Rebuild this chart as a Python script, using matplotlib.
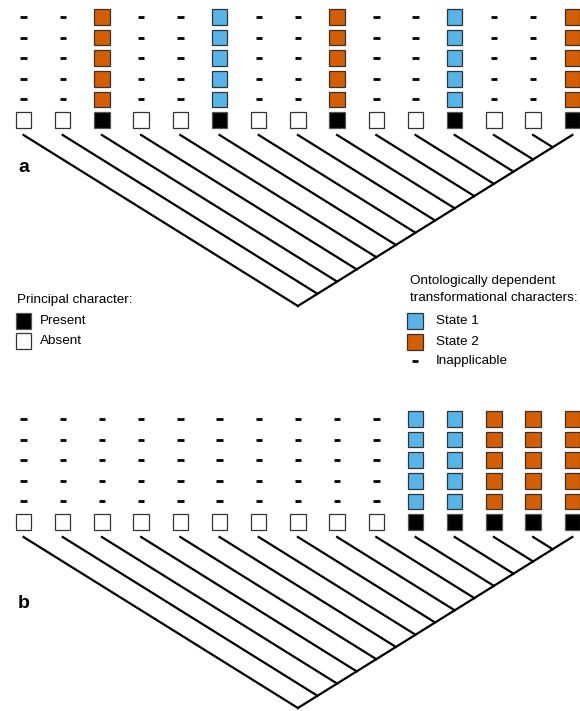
import numpy as np
import matplotlib.pyplot as plt
from matplotlib.patches import Rectangle

plt.rcParams['font.family'] = ['Liberation Sans', 'DejaVu Sans']

# Data: principal character (1 = present, 0 = absent) and dependent state per taxon
principal_a = [0, 0, 1, 0, 0, 1, 0, 0, 1, 0, 0, 1, 0, 0, 1]
states_a = ['-', '-', '2', '-', '-', '1', '-', '-', '2', '-', '-', '1', '-', '-', '2']
principal_b = [0, 0, 0, 0, 0, 0, 0, 0, 0, 0, 1, 1, 1, 1, 1]
states_b = ['-', '-', '-', '-', '-', '-', '-', '-', '-', '-', '1', '1', '2', '2', '2']
n_dependent = 5

blue = '#56B4E9'
orange = '#D55E00'
state_colors = {'1': blue, '2': orange}

fig = plt.figure(figsize=(5.8, 7.11), dpi=100)
ax = fig.add_axes([0, 0, 1, 1])
ax.set_xlim(0, 580)
ax.set_ylim(711, 0)
ax.axis('off')

xs = 23.5 + 39.2 * np.arange(15)
sq = 15.5
row_gap = 20.6


def square(x, y, face, edge='#333333'):
    ax.add_patch(Rectangle((x - sq / 2, y - sq / 2), sq, sq, facecolor=face,
                           edgecolor=edge, linewidth=0.9))


def dash(x, y):
    ax.plot([x - 3.2, x + 3.2], [y, y], color='black', lw=2.0, solid_capstyle='butt')


def panel(principal, states, base_y, tip_y, root_dy):
    for x, p, s in zip(xs, principal, states):
        square(x, base_y, 'black' if p else 'white',
               edge='#555555' if p else '#333333')
        for k in range(1, n_dependent + 1):
            y = base_y - k * row_gap
            if s == '-':
                dash(x, y)
            else:
                square(x, y, state_colors[s])
    # pectinate tree
    x_last = xs[-1]
    slope = root_dy / ((x_last - xs[0]) / 2)
    x_root = (xs[0] + x_last) / 2
    ax.plot([x_last, x_root], [tip_y, tip_y + root_dy], color='black', lw=1.6)
    for x in xs[:-1]:
        xj = (x + x_last) / 2
        ax.plot([x, xj], [tip_y, tip_y + slope * (xj - x)], color='black', lw=1.6)


panel(principal_a, states_a, 120, 135, 171)
panel(principal_b, states_b, 522, 537, 171)

ax.text(18, 167, 'a', fontsize=14, fontweight='bold', va='center', ha='left')
ax.text(18, 603, 'b', fontsize=14, fontweight='bold', va='center', ha='left')

fs = 9.7
# Legend: principal character
ax.text(17, 300, 'Principal character:', fontsize=fs, va='center')
square(23.5, 321, 'black', edge='#555555')
ax.text(40, 321, 'Present', fontsize=fs, va='center')
square(23.5, 341, 'white')
ax.text(40, 341, 'Absent', fontsize=fs, va='center')

# Legend: dependent characters
ax.text(410, 281, 'Ontologically dependent', fontsize=fs, va='center')
ax.text(410, 298, 'transformational characters:', fontsize=fs, va='center')
square(415, 321, blue)
ax.text(436, 321, 'State 1', fontsize=fs, va='center')
square(415, 342, orange)
ax.text(436, 342, 'State 2', fontsize=fs, va='center')
dash(415, 361)
ax.text(436, 361, 'Inapplicable', fontsize=fs, va='center')

plt.savefig('out.png', dpi=100)
